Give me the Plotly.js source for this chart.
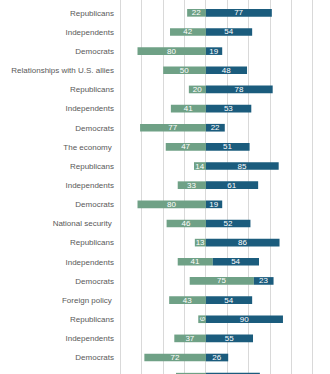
<!DOCTYPE html>
<html>
<head>
<meta charset="utf-8">
<script src="https://cdn.plot.ly/plotly-3.0.1.min.js"></script>
<style>
html, body { margin: 0; padding: 0; overflow: hidden; background: #fff; }
#chart { width: 340px; height: 392px; }
</style>
</head>
<body>
<div id="chart"></div>
<script>
// Row labels, top to bottom
var labels = ["Republicans", "Independents", "Democrats", "Relationships with U.S. allies",
  "Republicans", "Independents", "Democrats", "The economy\u00a0",
  "Republicans", "Independents", "Democrats", "National security\u00a0",
  "Republicans", "Independents", "Democrats", "Foreign policy\u00a0",
  "Republicans", "Independents", "Democrats", "Trade policy"];
// Green (left) values
var greenVals = [22, 42, 80, 50, 20, 41, 77, 47, 14, 33, 80, 46, 13, 41, 75, 43, 9, 37, 72, 35];
// Blue (right) values
var blueVals = [77, 54, 19, 48, 78, 53, 22, 51, 85, 61, 19, 52, 86, 54, 23, 54, 90, 55, 26, 63];
// Offset of the split point as drawn in the reference (two rows are drawn shifted)
var shift = [0, 0, 0, 0, 0, 0, 0, 0, 0, 0, 0, 0, 0, 8, 56, 0, 0, 0, 0, 0];

var rowIdx = labels.map(function (_, i) { return i; });

var green = {
  type: 'bar', orientation: 'h',
  y: rowIdx,
  x: greenVals,
  base: greenVals.map(function (v, i) { return shift[i] - v; }),
  width: 0.4,
  marker: { color: '#6fa186', line: { width: 0 } },
  text: greenVals.map(String),
  textposition: 'inside', insidetextanchor: 'middle', constraintext: 'none',
  textfont: { color: '#ffffff', size: 8, family: 'Liberation Sans, Arial, sans-serif' },
  hoverinfo: 'skip'
};
var blue = {
  type: 'bar', orientation: 'h',
  y: rowIdx,
  x: blueVals,
  base: shift,
  width: 0.4,
  marker: { color: '#1b5c7d', line: { width: 0 } },
  text: blueVals.map(String),
  textposition: 'inside', insidetextanchor: 'middle', constraintext: 'none',
  textfont: { color: '#ffffff', size: 8, family: 'Liberation Sans, Arial, sans-serif' },
  hoverinfo: 'skip'
};

var layout = {
  width: 340, height: 392,
  margin: { l: 119, r: 4, t: 0, b: 0 },
  paper_bgcolor: '#ffffff', plot_bgcolor: '#ffffff',
  barmode: 'overlay',
  showlegend: false,
  font: { family: 'Liberation Sans, Arial, sans-serif', size: 8, color: '#595959' },
  xaxis: {
    range: [-101.64, 152],
    tickvals: [-100, -75, -50, -25, 0, 25, 50, 75, 100, 125, 150],
    showticklabels: false, ticks: '',
    showgrid: true, gridcolor: '#d9d9d9', gridwidth: 1,
    zeroline: false, showline: false, fixedrange: true
  },
  yaxis: {
    range: [19.8, -0.67],
    tickvals: rowIdx, ticktext: labels,
    ticks: '', ticklabelstandoff: 4,
    tickfont: { size: 8, color: '#595959' },
    showgrid: false, zeroline: false, showline: false, fixedrange: true
  }
};

Plotly.newPlot('chart', [green, blue], layout, { staticPlot: true, displayModeBar: false });
</script>
</body>
</html>
